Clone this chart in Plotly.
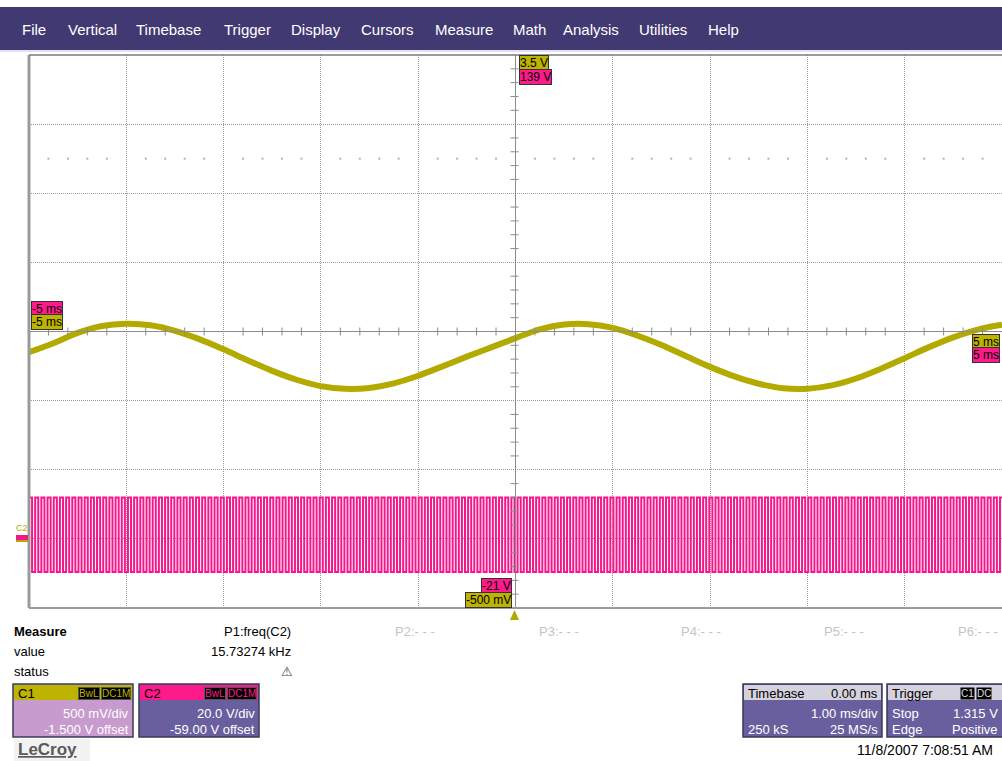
import numpy as np
import plotly.graph_objects as go

# ---------------- data ----------------
MENU_ITEMS = ["File", "Vertical", "Timebase", "Trigger", "Display", "Cursors",
              "Measure", "Math", "Analysis", "Utilities", "Help"]
MENU_X = [20, 66, 134, 222, 289, 359, 433, 511, 561, 637, 706]

C1_T_MS = [-5.0, -4.75, -4.5, -4.25, -4.0, -3.75, -3.5, -3.25, -3.0, -2.75,
           -2.5, -2.25, -2.0, -1.75, -1.5, -1.25, -1.0, -0.75, -0.5, -0.25,
           0.0, 0.25, 0.5, 0.75, 1.0, 1.25, 1.5, 1.75, 2.0, 2.25,
           2.5, 2.75, 3.0, 3.25, 3.5, 3.75, 4.0, 4.25, 4.5, 4.75, 5.0]
C1_V = [1.350, 1.415, 1.490, 1.540, 1.556, 1.545, 1.505, 1.445, 1.371, 1.291,
        1.215, 1.151, 1.105, 1.085, 1.092, 1.125, 1.180, 1.248, 1.318, 1.385,
        1.452, 1.515, 1.550, 1.553, 1.526, 1.471, 1.402, 1.323, 1.244, 1.175,
        1.122, 1.090, 1.086, 1.110, 1.160, 1.229, 1.307, 1.387, 1.458, 1.514,
        1.549]

C2_FREQ_KHZ = 15.73274
C2_LEVELS_V = [11.0, -10.6]   # high, low

# channel settings
C1_VDIV, C1_OFFSET = 0.5, -1.5
C2_VDIV, C2_OFFSET = 20.0, -59.0
T_DIV_MS = 1.0
N_HDIV, N_VDIV = 10, 8

# ---------------- geometry (pixels) ----------------
W, H = 1002, 761
L, R, T, B = 29, 1002, 55, 608

def X(px):
    return (px - L) / (R - L)

def Y(py):
    return (B - py) / (B - T)

OLIVE = "#b3aa00"
OLIVE_BADGE = "#bdb300"
PINK = "#f5168c"
PINK_BADGE = "#ff1a8c"
PURPLE = "#6a5f9e"
MENU_PURPLE = "#413971"
FONT = "Liberation Sans, Arial, sans-serif"

c1_center = -C1_OFFSET
c1_range = [c1_center - C1_VDIV * N_VDIV / 2, c1_center + C1_VDIV * N_VDIV / 2]
c2_center = -C2_OFFSET
c2_range = [c2_center - C2_VDIV * N_VDIV / 2, c2_center + C2_VDIV * N_VDIV / 2]
t_range = [-T_DIV_MS * N_HDIV / 2, T_DIV_MS * N_HDIV / 2]

fig = go.Figure()

# square wave C2
half = 1.0 / (2.0 * C2_FREQ_KHZ)
n_edges = int(np.ceil((t_range[1] - t_range[0]) / half)) + 1
t2 = t_range[0] + half * np.arange(n_edges)
v2 = np.array([C2_LEVELS_V[i % 2] for i in range(n_edges)])
fig.add_trace(go.Scatter(x=t2, y=v2, mode="lines", line=dict(color=PINK, width=2, shape="hv"),
                         yaxis="y2", hoverinfo="skip", showlegend=False))

# sine C1
fig.add_trace(go.Scatter(x=C1_T_MS, y=C1_V, mode="lines",
                         line=dict(color=OLIVE, width=6, shape="spline", smoothing=1.0),
                         hoverinfo="skip", showlegend=False))

shapes = []
annotations = []

# graticule centre lines with minor ticks
shapes.append(dict(type="line", xref="x", yref="paper", x0=0, x1=0, y0=0, y1=1,
                   line=dict(color="#8c8c8c", width=1)))
shapes.append(dict(type="line", xref="paper", yref="y", x0=0, x1=1, y0=c1_center, y1=c1_center,
                   line=dict(color="#8c8c8c", width=1)))
cy = Y((T + B) / 2)
for i in range(N_HDIV * 5 + 1):
    if i % 5 == 0:
        continue
    tx = t_range[0] + i * T_DIV_MS / 5
    shapes.append(dict(type="line", xref="x", yref="paper", x0=tx, x1=tx,
                       y0=cy - 4 / (B - T), y1=cy + 4 / (B - T),
                       line=dict(color="#8c8c8c", width=1)))
cx = X((L + R) / 2 - 1)
for j in range(N_VDIV * 5 + 1):
    if j % 5 == 0:
        continue
    vy = c1_range[0] + j * C1_VDIV / 5
    shapes.append(dict(type="line", xref="paper", yref="y", x0=cx - 4 / (R - L), x1=cx + 4 / (R - L),
                       y0=vy, y1=vy, line=dict(color="#8c8c8c", width=1)))

# faint dot row
dot_v = c1_center + 2.5 * C1_VDIV
dot_t = [t_range[0] + i * T_DIV_MS / 5 for i in range(N_HDIV * 5 + 1) if i % 5 != 0]
fig.add_trace(go.Scatter(x=dot_t, y=[dot_v] * len(dot_t), mode="markers",
                         marker=dict(color="#b4b4b4", size=2, symbol="square"),
                         hoverinfo="skip", showlegend=False))

# borders
shapes.append(dict(type="line", xref="paper", yref="paper", x0=X(L), x1=X(L), y0=0, y1=1,
                   line=dict(color="#9a9a9a", width=3)))
shapes.append(dict(type="line", xref="paper", yref="paper", x0=X(L), x1=1, y0=0, y1=0,
                   line=dict(color="#9a9a9a", width=2)))
shapes.append(dict(type="line", xref="paper", yref="paper", x0=X(L), x1=1, y0=1, y1=1,
                   line=dict(color="#7a7a7a", width=1.5)))

# menu bar
shapes.append(dict(type="rect", xref="paper", yref="paper", x0=X(0), x1=X(W), y0=Y(7), y1=Y(50),
                   fillcolor=MENU_PURPLE, line=dict(width=0), layer="above"))
shapes.append(dict(type="line", xref="paper", yref="paper", x0=X(0), x1=X(W), y0=Y(51), y1=Y(51),
                   line=dict(color="#c8c4e0", width=1)))
for txt, mx in zip(MENU_ITEMS, MENU_X):
    annotations.append(dict(text=txt, x=X(mx), y=Y(29), xref="paper", yref="paper",
                            xanchor="left", yanchor="middle", showarrow=False,
                            font=dict(family=FONT, size=15, color="white")))


def badge(text, x_right=None, x_left=None, yc=0, bg="white", size=12):
    d = dict(text=text, y=Y(yc), xref="paper", yref="paper", yanchor="middle", showarrow=False,
             font=dict(family=FONT, size=size, color="black"), bgcolor=bg,
             bordercolor="#333", borderwidth=1, borderpad=0)
    if x_right is not None:
        d.update(x=X(x_right), xanchor="right")
    else:
        d.update(x=X(x_left), xanchor="left")
    annotations.append(d)

# channel range badges
badge(f"{c1_range[1]:.1f} V", x_left=519, yc=63, bg=OLIVE_BADGE)
badge(f"{c2_range[1]:.0f} V", x_left=519, yc=77, bg=PINK_BADGE)
badge(f"{c2_range[0]:.0f} V", x_right=512, yc=586, bg=PINK_BADGE)
badge(f"{c1_range[0]*1000:.0f} mV", x_right=512, yc=600, bg=OLIVE_BADGE)
badge(f"{t_range[0]:.0f} ms", x_left=31, yc=309, bg=PINK_BADGE)
badge(f"{t_range[0]:.0f} ms", x_left=31, yc=322, bg=OLIVE_BADGE)
badge(f"{t_range[1]:.0f} ms", x_right=1000, yc=342, bg=OLIVE_BADGE)
badge(f"{t_range[1]:.0f} ms", x_right=1000, yc=355, bg=PINK_BADGE)

# ground marker at left
annotations.append(dict(text="C2", x=X(14), y=Y(528), xref="paper", yref="paper", xanchor="left",
                        yanchor="middle", showarrow=False, font=dict(family=FONT, size=9, color=OLIVE)))
shapes.append(dict(type="rect", xref="paper", yref="paper", x0=X(16), x1=X(28), y0=Y(541), y1=Y(535),
                   fillcolor=PINK, line=dict(width=0)))
shapes.append(dict(type="rect", xref="paper", yref="paper", x0=X(16), x1=X(28), y0=Y(542), y1=Y(540),
                   fillcolor=OLIVE, line=dict(width=0)))

# trigger arrow
shapes.append(dict(type="path", xref="paper", yref="paper",
                   path=f"M {X(510)} {Y(620)} L {X(519)} {Y(620)} L {X(514.5)} {Y(610)} Z",
                   fillcolor=OLIVE, line=dict(width=0)))

# measure area
def text(t, x, y, anchor="left", size=13, color="black", bold=False):
    annotations.append(dict(text=f"<b>{t}</b>" if bold else t, x=X(x), y=Y(y), xref="paper",
                            yref="paper", xanchor=anchor, yanchor="middle", showarrow=False,
                            font=dict(family=FONT, size=size, color=color)))

text("Measure", 12, 631, bold=True)
text("value", 12, 651)
text("status", 12, 671)
text("P1:freq(C2)", 293, 631, anchor="right")
text(f"{C2_FREQ_KHZ:.5f} kHz", 293, 651, anchor="right")
text("⚠", 287, 671, anchor="center", size=13, color="#444")
for lbl, px_ in zip(["P2:- - -", "P3:- - -", "P4:- - -", "P5:- - -"],
                    [393, 537, 679, 822]):
    text(lbl, px_, 631, color="#c4c4c4")
text("P6:- - -", 1000, 631, anchor="right", color="#c4c4c4")

# channel boxes
def small_badge(t, x_right, color):
    annotations.append(dict(text=t, x=X(x_right), y=Y(693), xref="paper", yref="paper", xanchor="right",
                            yanchor="middle", showarrow=False,
                            font=dict(family=FONT, size=10, color=color),
                            bgcolor="black", bordercolor="#555", borderwidth=1, borderpad=0))


def box(x0, x1, head_col, body_col, head_text, lines, with_badges=True):
    shapes.append(dict(type="rect", xref="paper", yref="paper", x0=X(x0), x1=X(x1), y0=Y(737), y1=Y(684),
                       fillcolor=body_col, line=dict(color="#3a3a5a", width=1.5)))
    shapes.append(dict(type="rect", xref="paper", yref="paper", x0=X(x0 + 1), x1=X(x1 - 1), y0=Y(700),
                       y1=Y(685), fillcolor=head_col, line=dict(width=0)))
    text(head_text, x0 + 3, 693, color="black")
    if with_badges:
        small_badge("DC1M", x1 - 2, head_col)
        small_badge("BwL", x1 - 33, head_col)
    for (lt, rt), yy in zip(lines, [713, 729]):
        if lt:
            text(lt, x0 + 3, yy, color="white")
        if rt:
            text(rt, x1 - 2, yy, anchor="right", color="white")

box(13, 133, OLIVE_BADGE, "#c79bcd", "C1",
    [(None, f"{C1_VDIV*1000:.0f} mV/div"), (None, f"{C1_OFFSET:.3f} V offset")])
box(139, 259, PINK_BADGE, PURPLE, "C2",
    [(None, f"{C2_VDIV:.1f} V/div"), (None, f"{C2_OFFSET:.2f} V offset")])
box(743, 882, "#d4d2dc", PURPLE, "Timebase",
    [(None, f"{T_DIV_MS:.2f} ms/div"), ("250 kS", "25 MS/s")], with_badges=False)
text("0.00 ms", 880, 693, anchor="right")
box(887, 1010, "#d4d2dc", PURPLE, "Trigger", [("Stop", None), ("Edge", None)], with_badges=False)
text("1.315 V", 1000, 713, anchor="right", color="white")
text("Positive", 1000, 729, anchor="right", color="white")
annotations.append(dict(text="C1", x=X(960), y=Y(693), xref="paper", yref="paper", xanchor="left",
                        yanchor="middle", showarrow=False, font=dict(family=FONT, size=10, color="#ddd"),
                        bgcolor="black", borderpad=0))
annotations.append(dict(text="DC", x=X(976), y=Y(693), xref="paper", yref="paper", xanchor="left",
                        yanchor="middle", showarrow=False, font=dict(family=FONT, size=10, color="#ddd"),
                        bgcolor="black", borderpad=0))

# logo and date
shapes.append(dict(type="rect", xref="paper", yref="paper", x0=X(14), x1=X(90), y0=Y(761), y1=Y(739),
                   fillcolor="#f2f2f2", line=dict(width=0)))
text("<u>LeCroy</u>", 16, 749, size=17, color="#5a5a5a", bold=True)
text("11/8/2007 7:08:51 AM", 995, 750, anchor="right", size=14)

fig.update_layout(
    width=W, height=H, autosize=False,
    margin=dict(l=L, r=W - R, t=T, b=H - B, pad=0),
    paper_bgcolor="white", plot_bgcolor="white",
    showlegend=False,
    xaxis=dict(range=t_range, dtick=T_DIV_MS, tick0=t_range[0], showgrid=True, gridcolor="#9a9a9a",
               griddash="1px,1px", gridwidth=1, zeroline=False, showticklabels=False, ticks="",
               showline=False, fixedrange=True),
    yaxis=dict(range=c1_range, dtick=C1_VDIV, tick0=c1_range[0], showgrid=True, gridcolor="#9a9a9a",
               griddash="1px,1px", gridwidth=1, zeroline=False, showticklabels=False, ticks="",
               showline=False, fixedrange=True),
    yaxis2=dict(range=c2_range, overlaying="y", showgrid=False, zeroline=False, showticklabels=False,
                ticks="", showline=False, fixedrange=True),
    shapes=shapes,
    annotations=annotations,
    hovermode=False,
)

fig.write_html("out.html", config={"displayModeBar": False},
               post_script="document.body.style.margin='0';document.body.style.overflow='hidden';")
